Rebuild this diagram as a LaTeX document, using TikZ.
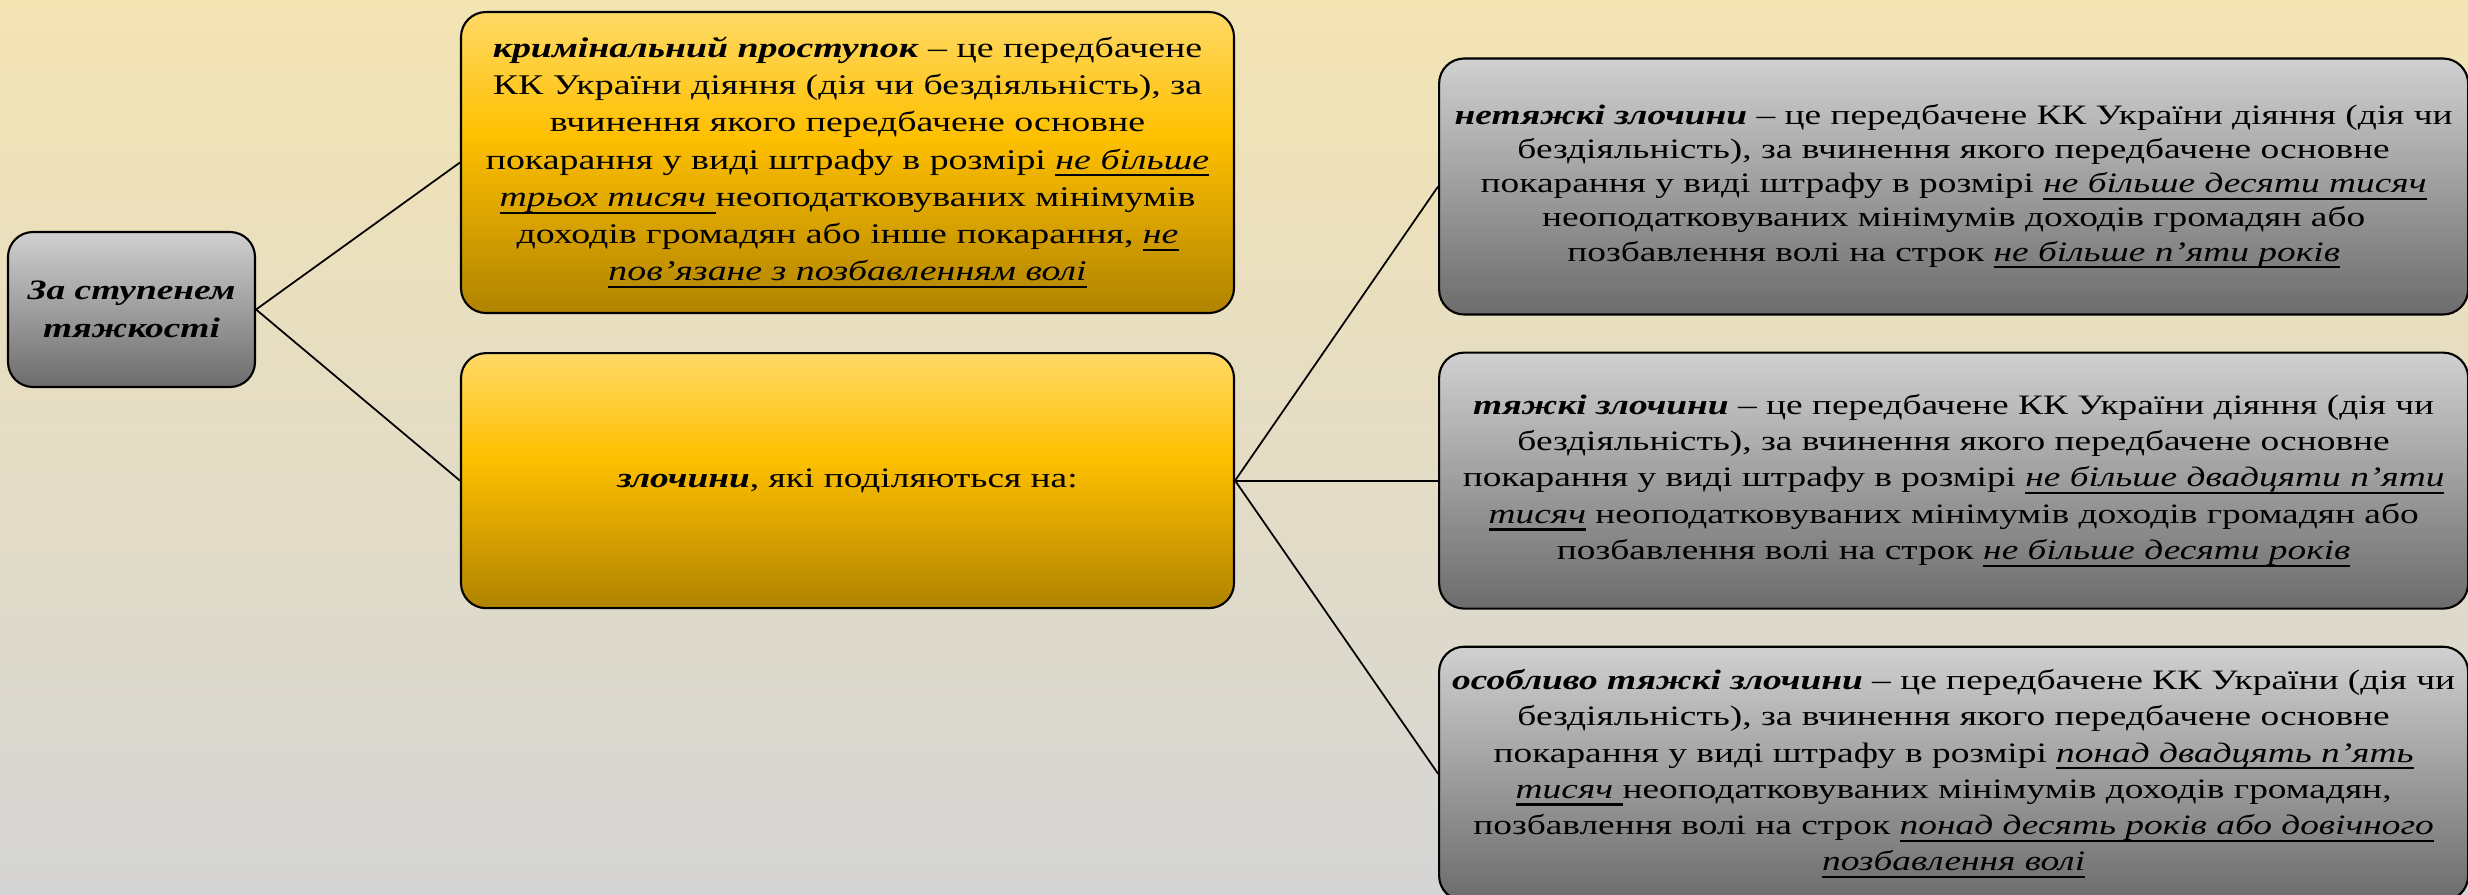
\documentclass[tikz,border=0pt]{standalone}
\usepackage{fontspec}
\setmainfont{Liberation Serif}[FakeStretch=1.33]
\usetikzlibrary{positioning, math, calc}

\definecolor{bgTop}{HTML}{F3E4B4}
\definecolor{bgBot}{HTML}{D5D5D5}
\definecolor{goldTop}{HTML}{FFD966}
\definecolor{goldMid}{HTML}{FFC000}
\definecolor{goldBot}{HTML}{B08300}
\definecolor{greyTop}{HTML}{D0D0D0}
\definecolor{greyBot}{HTML}{6C6C6C}
\pgfdeclareverticalshading{goldfade}{100bp}{color(0bp)=(goldBot); color(25bp)=(goldBot); color(54.5bp)=(goldMid); color(75bp)=(goldTop); color(100bp)=(goldTop)}

\newcommand{\term}[1]{\textbf{\textit{#1}}}
\newsavebox{\ulbox}
\newcommand{\ulit}[1]{\sbox{\ulbox}{\textit{#1}}\rlap{\rule[-2.1pt]{\wd\ulbox}{0.6pt}}\usebox{\ulbox}}

\begin{document}
\begin{tikzpicture}
		\tikzmath{
			\picW       = 24.68;   %picture width
			\picH       = 8.94;    %picture height
			\midW       = 7.73;    %width of middle boxes
			\rightW     = 10.29;   %width of right boxes
			\rightH     = 2.56;    %height of right boxes
			\rightGap   = 0.36;    %gap between right boxes
		}
		\tikzstyle{Base} = [
			draw=black,
			line width=0.6pt,
			rounded corners=0.25cm,
			align=center,
			inner sep=0pt,
			font=\fontsize{8}{10.3}\selectfont
		]
		\tikzstyle{GreyNode} = [
			top color=greyTop,
			bottom color=greyBot,
			Base
		]
		\tikzstyle{GoldNode} = [
			shading=goldfade,
			Base
		]
		\tikzstyle{Link} = [
			line width=0.5pt
		]
		\clip (0,0) rectangle (\picW,-\picH);
		\shade [top color=bgTop, bottom color=bgBot] (0,0) rectangle (\picW,-\picH);
		
		%%%%%%%%%%%%%%%%%%%%%%%%%%===---ROOT---===%%%%%%%%%%%%%%%%%%%%%%%%%%
		\node (root) [GreyNode, minimum width=2.47cm, minimum height=1.55cm,
			font=\fontsize{8}{10.8}\selectfont] at (1.315,-3.095)
			{\term{За ступенем}\\\term{тяжкості}};
		%%%%%%%%%%%%%%%%%%%%%%%%%%===---MIDDLE COLUMN---===%%%%%%%%%%%%%%%%%%%%%%%%%%
		\node (prost) [GoldNode, minimum width=\midW cm, minimum height=3.01cm,
			font=\fontsize{8.1}{10.6}\selectfont] at (8.475,-1.625)
			{\term{кримінальний проступок} – це передбачене\\
			КК України діяння (дія чи бездіяльність), за\\
			вчинення якого передбачене основне\\
			покарання у виді штрафу в розмірі \ulit{не більше}\\
			\ulit{трьох тисяч }неоподатковуваних мінімумів\\
			доходів громадян або інше покарання, \ulit{не}\\
			\ulit{пов’язане з позбавленням волі}};
		\node (zloch) [GoldNode, minimum width=\midW cm, minimum height=2.55cm, below = 0.38 of prost]
			{\term{злочини}, які поділяються на:};
		%%%%%%%%%%%%%%%%%%%%%%%%%%===---RIGHT COLUMN---===%%%%%%%%%%%%%%%%%%%%%%%%%%
		\node (heavy) [GreyNode, minimum width=\rightW cm, minimum height=\rightH cm, right = 2.03 of zloch]
			{\term{тяжкі злочини} – це передбачене КК України діяння (дія чи\\
			бездіяльність), за вчинення якого передбачене основне\\
			покарання у виді штрафу в розмірі \ulit{не більше двадцяти п’яти}\\
			\ulit{тисяч} неоподатковуваних мінімумів доходів громадян або\\
			позбавлення волі на строк \ulit{не більше десяти років}};
		\node (light) [GreyNode, minimum width=\rightW cm, minimum height=\rightH cm, above = \rightGap of heavy,
			font=\fontsize{8}{9.7}\selectfont]
			{\term{нетяжкі злочини} – це передбачене КК України діяння (дія чи\\
			бездіяльність), за вчинення якого передбачене основне\\
			покарання у виді штрафу в розмірі \ulit{не більше десяти тисяч}\\
			неоподатковуваних мінімумів доходів громадян або\\
			позбавлення волі на строк \ulit{не більше п’яти років}};
		\node (grave) [GreyNode, minimum width=\rightW cm, minimum height=2.54cm, below = \rightGap of heavy]
			{\term{особливо тяжкі злочини} – це передбачене КК України (дія чи\\
			бездіяльність), за вчинення якого передбачене основне\\
			покарання у виді штрафу в розмірі \ulit{понад двадцять п’ять}\\
			\ulit{тисяч }неоподатковуваних мінімумів доходів громадян,\\
			позбавлення волі на строк \ulit{понад десять років або довічного}\\
			\ulit{позбавлення волі}};
		%%%%%%%%%%%%%%%%%%%%%%%%%%===---LINKS---===%%%%%%%%%%%%%%%%%%%%%%%%%%
		\draw [Link] (root.east) -- (prost.west);
		\draw [Link] (root.east) -- (zloch.west);
		\draw [Link] (zloch.east) -- (light.west);
		\draw [Link] (zloch.east) -- (heavy.west);
		\draw [Link] (zloch.east) -- (grave.west);
		
	\end{tikzpicture}
\end{document}
